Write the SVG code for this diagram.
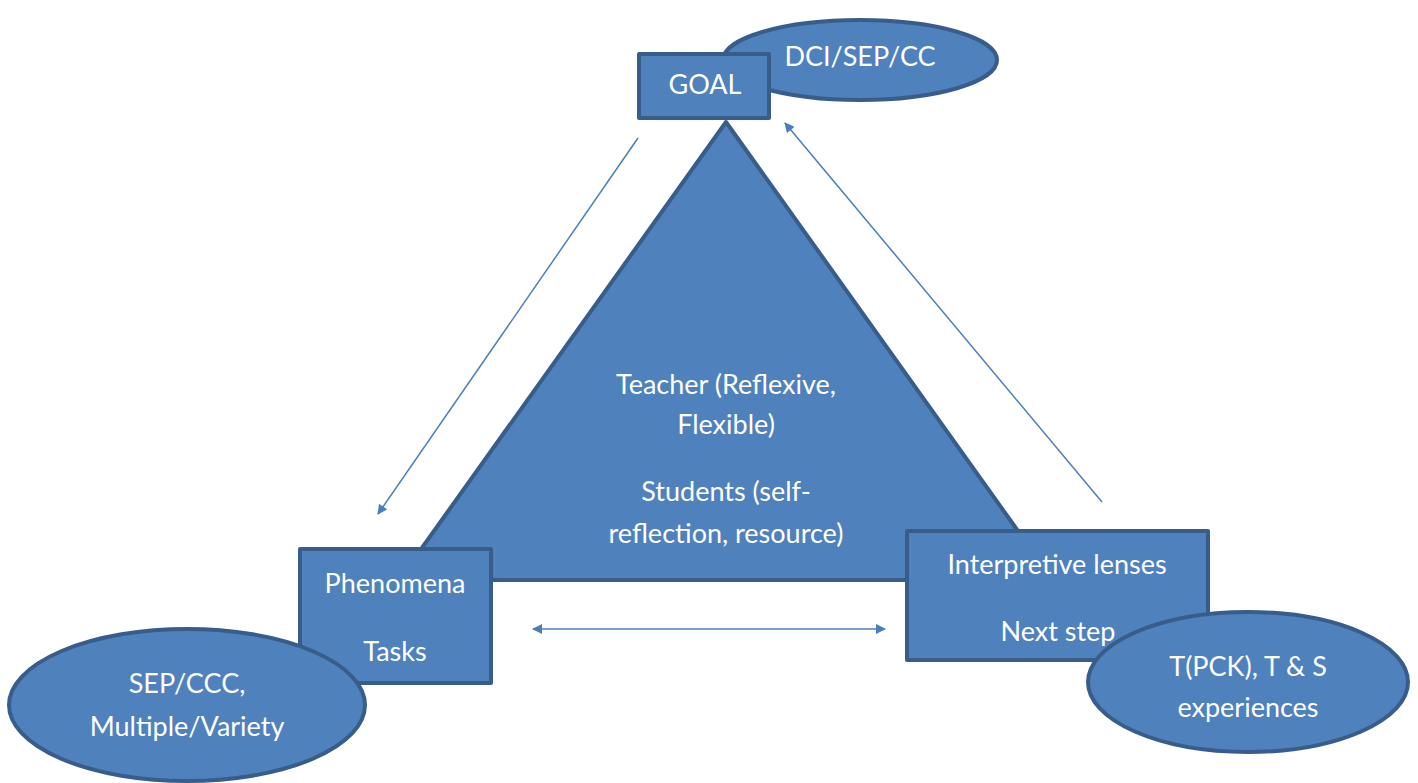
<svg xmlns="http://www.w3.org/2000/svg" width="1418" height="783" viewBox="0 0 1418 783">
<defs>
<style>
.shape{fill:#4f81bd;stroke:#385d8a;stroke-width:4;stroke-linejoin:round}
.t{font-family:Lato,"Open Sans","Liberation Sans",sans-serif;font-size:27px;fill:#ffffff;text-anchor:middle}
.conn{stroke:#4a7ebb;stroke-width:1.5;fill:none}
</style>
<marker id="ah" viewBox="0 0 10 10" refX="9" refY="5" markerWidth="11" markerHeight="10" orient="auto-start-reverse" markerUnits="userSpaceOnUse">
<path d="M0,0 L10,5 L0,10 z" fill="#4a7ebb"/>
</marker>
</defs>
<rect width="1418" height="783" fill="#ffffff"/>
<g id="triangle">
<polygon class="shape" points="726,122 399,580 1053,580"/>
<text class="t" x="726" y="394">Teacher (Reflexive,</text>
<text class="t" x="726" y="434">Flexible)</text>
<text class="t" x="726" y="501">Students (self-</text>
<text class="t" x="726" y="543">reflection, resource)</text>
</g>
<g id="dci">
<ellipse class="shape" cx="860" cy="60" rx="137" ry="40"/>
<text class="t" x="860" y="66">DCI/SEP/CC</text>
</g>
<g id="goal">
<rect class="shape" x="639" y="54" width="130" height="64"/>
<text class="t" x="705" y="94">GOAL</text>
</g>
<g id="phenomena">
<rect class="shape" x="300" y="549" width="191" height="134"/>
<text class="t" x="395" y="593">Phenomena</text>
<text class="t" x="395" y="661">Tasks</text>
</g>
<g id="sepccc">
<ellipse class="shape" cx="187" cy="705" rx="178" ry="76"/>
<text class="t" x="187" y="693">SEP/CCC,</text>
<text class="t" x="187" y="736">Multiple/Variety</text>
</g>
<g id="interpretive">
<rect class="shape" x="907" y="531" width="301" height="129"/>
<text class="t" x="1057" y="574">Interpretive lenses</text>
<text class="t" x="1058" y="641">Next step</text>
</g>
<g id="tpck">
<ellipse class="shape" cx="1248" cy="682" rx="160" ry="70"/>
<text class="t" x="1248" y="676">T(PCK), T &amp; S</text>
<text class="t" x="1248" y="717">experiences</text>
</g>
<g id="connectors">
<line class="conn" x1="638" y1="138" x2="378" y2="514" marker-end="url(#ah)"/>
<line class="conn" x1="1102" y1="502" x2="785" y2="123" marker-end="url(#ah)"/>
<line class="conn" x1="533" y1="629" x2="885" y2="629" marker-start="url(#ah)" marker-end="url(#ah)"/>
</g>
</svg>
